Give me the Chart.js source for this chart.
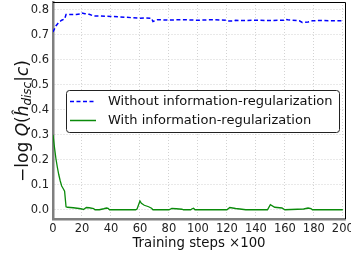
<!DOCTYPE html>
<html>
<head>
<meta charset="utf-8">
<script src="https://cdn.jsdelivr.net/npm/chart.js@4.4.0/dist/chart.umd.min.js"></script>
<style>
  html, body { margin: 0; padding: 0; background: #fff; }
  #wrap { width: 351px; height: 255px; }
</style>
</head>
<body>
<div id="wrap"><canvas id="c" width="351" height="255"></canvas></div>
<script>
// данные графика
const seriesNames = ['Without information-regularization', 'With information-regularization'];

const blueX = [0, 2, 4, 6, 8, 9, 12, 16, 19, 20, 22, 25, 28, 32, 36, 40, 45, 50, 55, 60, 64, 68, 69, 72, 80, 90, 100, 110, 119, 120, 125, 126, 130, 140, 150, 159, 160, 162, 170, 172, 176, 179, 185, 190, 200];
const blueY = [0.711, 0.735, 0.750, 0.758, 0.763, 0.781, 0.781, 0.781, 0.783, 0.787, 0.784, 0.782, 0.775, 0.775, 0.774, 0.773, 0.772, 0.770, 0.768, 0.766, 0.767, 0.766, 0.753, 0.760, 0.759, 0.760, 0.758, 0.760, 0.758, 0.755, 0.755, 0.758, 0.757, 0.758, 0.757, 0.758, 0.762, 0.760, 0.756, 0.749, 0.751, 0.756, 0.757, 0.756, 0.756];

const greenX = [0, 1, 2, 3, 4, 5, 6, 7, 8, 9, 10, 14, 18, 20, 21, 23, 25, 28, 29, 32, 35, 37, 38, 39, 40, 57, 58, 60, 61, 63, 66, 68, 69, 80, 82, 85, 89, 90, 95, 96, 97, 98, 120, 122, 126, 129, 133, 148, 150, 153, 158, 160, 173, 176, 178, 179, 200];
const greenY = [0.30, 0.25, 0.205, 0.17, 0.14, 0.115, 0.095, 0.085, 0.074, 0.012, 0.010, 0.008, 0.005, 0.003, 0.001, 0.009, 0.008, 0.005, 0.0, 0.0, 0.004, 0.007, 0.006, 0.0, 0.0, 0.0, 0.003, 0.035, 0.026, 0.018, 0.012, 0.006, 0.0, 0.0, 0.005, 0.004, 0.002, 0.0, 0.0, 0.004, 0.006, 0.0, 0.0, 0.009, 0.005, 0.003, 0.0, 0.0, 0.02, 0.01, 0.007, 0.0, 0.003, 0.007, 0.005, 0.0, 0.0];

const xTicks = [0, 20, 40, 60, 80, 100, 120, 140, 160, 180, 200];
const yTicks = [0.0, 0.1, 0.2, 0.3, 0.4, 0.5, 0.6, 0.7, 0.8];

const FONT = 'DejaVu Sans';
const BLUE = '#0000ff';
const GREEN = '#0a8a0a';

function toPoints(xs, ys) {
    return xs.map((x, i) => ({x: x, y: ys[i]}));
}

// рамка сверху/справа, легенда и подпись оси Y
const extrasPlugin = {
    id: 'extras',
    afterDraw(chart) {
        const ctx = chart.ctx;
        const a = chart.chartArea;
        ctx.save();

        // тонкая рамка сверху и справа
        ctx.strokeStyle = '#000';
        ctx.lineWidth = 1;
        ctx.beginPath();
        ctx.moveTo(a.left, a.top + 0.5);
        ctx.lineTo(a.right + 0.5, a.top + 0.5);
        ctx.lineTo(a.right + 0.5, a.bottom);
        ctx.stroke();

        // легенда
        const bx = 66, by = 90, bw = 273, bh = 42;
        ctx.fillStyle = '#fff';
        ctx.strokeStyle = '#222';
        ctx.lineWidth = 1;
        ctx.beginPath();
        ctx.roundRect(bx + 0.5, by + 0.5, bw, bh, 3);
        ctx.fill();
        ctx.stroke();

        const rows = [
            {y: 101.5, color: BLUE, dash: [4, 2.5], width: 1.5},
            {y: 120.5, color: GREEN, dash: [], width: 1.5}
        ];
        ctx.font = '13px "' + FONT + '"';
        ctx.textBaseline = 'middle';
        rows.forEach((r, i) => {
            ctx.strokeStyle = r.color;
            ctx.lineWidth = r.width;
            ctx.setLineDash(r.dash);
            ctx.beginPath();
            ctx.moveTo(70, r.y);
            ctx.lineTo(96, r.y);
            ctx.stroke();
            ctx.setLineDash([]);
            ctx.fillStyle = '#111';
            ctx.fillText(chart.data.datasets[i].label, 108, r.y);
        });

        // подпись оси Y: −log Q(ĥ_disc|c)
        const parts = [
            {t: '\u2212log ', f: '17px "' + FONT + '"', dy: 0},
            {t: 'Q', f: 'italic 17px "' + FONT + '"', dy: 0},
            {t: '(', f: '17px "' + FONT + '"', dy: 0},
            {t: '\u0125', f: 'italic 17px "' + FONT + '"', dy: 0},
            {t: 'disc', f: 'italic 12px "' + FONT + '"', dy: 3.5},
            {t: '|', f: '17px "' + FONT + '"', dy: 0},
            {t: 'c', f: 'italic 17px "' + FONT + '"', dy: 0},
            {t: ')', f: '17px "' + FONT + '"', dy: 0}
        ];
        let total = 0;
        parts.forEach(p => { ctx.font = p.f; p.w = ctx.measureText(p.t).width; total += p.w; });
        ctx.translate(24, 121);
        ctx.rotate(-Math.PI / 2);
        ctx.fillStyle = '#111';
        ctx.textBaseline = 'middle';
        let cx = -total / 2;
        parts.forEach(p => {
            ctx.font = p.f;
            ctx.fillText(p.t, cx, p.dy);
            cx += p.w;
        });
        ctx.restore();
    }
};

new Chart(document.getElementById('c'), {
    type: 'line',
    data: {
        datasets: [
            {
                label: seriesNames[0],
                data: toPoints(blueX, blueY),
                borderColor: BLUE,
                borderWidth: 1.5,
                borderDash: [4, 2.5],
                pointRadius: 0,
                tension: 0,
                fill: false
            },
            {
                label: seriesNames[1],
                data: toPoints(greenX, greenY),
                borderColor: GREEN,
                borderWidth: 1.3,
                pointRadius: 0,
                tension: 0,
                fill: false
            }
        ]
    },
    options: {
        responsive: false,
        animation: false,
        devicePixelRatio: 1,
        layout: {padding: {top: 2, right: 6, left: 0, bottom: 0}},
        plugins: {
            legend: {display: false},
            tooltip: {enabled: false}
        },
        scales: {
            x: {
                type: 'linear',
                min: 0,
                max: 201.5,
                afterBuildTicks: s => { s.ticks = xTicks.map(v => ({value: v})); },
                afterFit: s => { s.height = 36; s.paddingLeft = 0; s.paddingRight = 0; },
                grid: {color: '#c8c8c8', lineWidth: 0.8, drawTicks: false},
                border: {color: '#7f7f7f', width: 2.5, dash: [1, 2]},
                ticks: {
                    color: '#222',
                    font: {family: FONT, size: 11.5},
                    padding: 3,
                    maxRotation: 0,
                    callback: v => String(v)
                },
                title: {
                    display: true,
                    text: 'Training steps \u00d7100',
                    color: '#111',
                    font: {family: FONT, size: 13.3},
                    padding: {top: 0, bottom: 3}
                }
            },
            y: {
                min: -0.037,
                max: 0.831,
                afterBuildTicks: s => { s.ticks = yTicks.map(v => ({value: v})); },
                afterFit: s => { s.width = 53; s.paddingTop = 0; s.paddingBottom = 0; },
                grid: {color: '#c8c8c8', lineWidth: 0.8, drawTicks: false},
                border: {color: '#7f7f7f', width: 2.5, dash: [1, 2]},
                ticks: {
                    color: '#222',
                    font: {family: FONT, size: 11.5},
                    padding: 4,
                    callback: v => v.toFixed(1)
                }
            }
        }
    },
    plugins: [extrasPlugin]
});
</script>
</body>
</html>
